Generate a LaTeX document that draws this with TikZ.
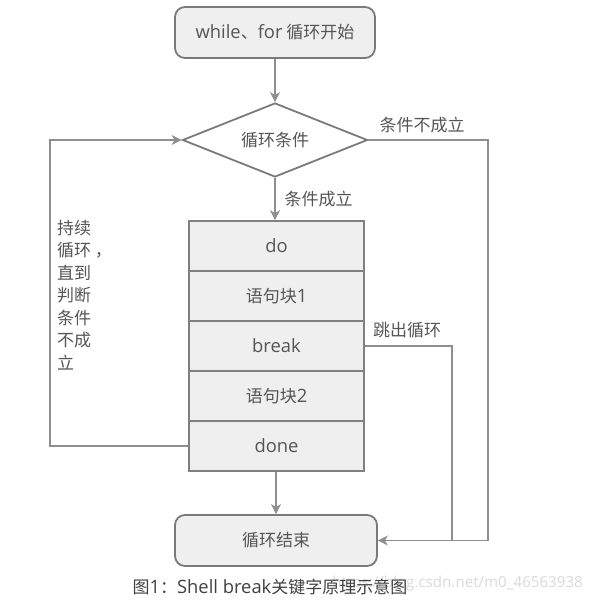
\documentclass[tikz,border=0pt]{standalone}
\usepackage{fontspec}
\setmainfont{Noto Sans CJK SC}
\newfontfamily\lat[Scale=1.08]{Open Sans}
\usetikzlibrary{arrows.meta,shapes.geometric}
\definecolor{linec}{HTML}{8E8E8E}
\definecolor{boxc}{HTML}{7A7A7A}
\definecolor{fillc}{HTML}{EFEFEF}
\definecolor{txt}{HTML}{555555}
\begin{document}
\begin{tikzpicture}[x=1pt,y=-1pt,
  every node/.style={text=txt,font=\fontsize{17}{20}\selectfont},
  term/.style={draw=boxc,fill=fillc,line width=1.8pt,rounded corners=10pt,minimum width=200pt,minimum height=51pt,inner sep=0pt},
  cond/.style={draw=boxc,fill=white,line width=1.8pt,diamond,aspect=2.5,minimum width=185pt,minimum height=74pt,inner sep=0pt},
  cell/.style={draw=linec!90!black,fill=fillc,line width=1.6pt,minimum width=175pt,minimum height=50pt,inner sep=0pt},
  conn/.style={draw=linec,line width=1.3pt},
  arr/.style={conn,-{Stealth[length=10pt,width=10pt,inset=3pt]}},
  lbl/.style={inner sep=0pt}
]
\useasboundingbox (0,0) rectangle (592,603);
\node[term] (start) at (275,32.5) {{\lat while}、{\lat for} 循环开始};
\node[cond] (cond) at (275,140) {循环条件};
\node[cell] (do) at (276.5,246) {\lat do};
\node[cell] (b1) at (276.5,296) {语句块{\lat 1}};
\node[cell] (brk) at (276.5,346) {\lat break};
\node[cell] (b2) at (276.5,396) {语句块{\lat 2}};
\node[cell] (done) at (276.5,446) {\lat done};
\node[term,minimum width=202pt] (end) at (276,540.5) {循环结束};
\coordinate (lx) at (50,0);
\coordinate (rx) at (488,0);
\coordinate (bx) at (452,0);
\draw[arr] (start) -- (cond);
\draw[arr] (cond.south) -- node[lbl,right=9pt] {条件成立} (cond.south |- do.north);
\draw[arr] (end.north |- done.south) -- (end.north);
\draw[arr] (done.west) -- (done.west -| lx) -- (lx |- cond.west) -- (cond.west);
\draw[arr] (cond.east) -- (cond.east -| rx) -- (rx |- end.east) -- (end.east);
\draw[conn] (brk.east) -- (brk.east -| bx) -- (bx |- end.east);
\node[lbl] (nt) at (422,125) {条件不成立};
\node[lbl] (jt) at (407,330) {跳出循环};
\node[lbl,anchor=north west,align=left,font=\fontsize{17}{22.5}\selectfont] (lt) at (57,220) {持续\\循环 ，\\直到\\判断\\条件\\不成\\立};
\node[lbl,anchor=east,text=gray!30,font=\fontsize{14}{16}\selectfont] (wm) at (583,584) {\lat https://blog.csdn.net/m0\_46563938};
\node[lbl,text=black!75,font=\fontsize{17}{20}\selectfont] (cap) at (270,587) {图{\lat 1}：{\lat Shell break}关键字原理示意图};
\end{tikzpicture}
\end{document}
